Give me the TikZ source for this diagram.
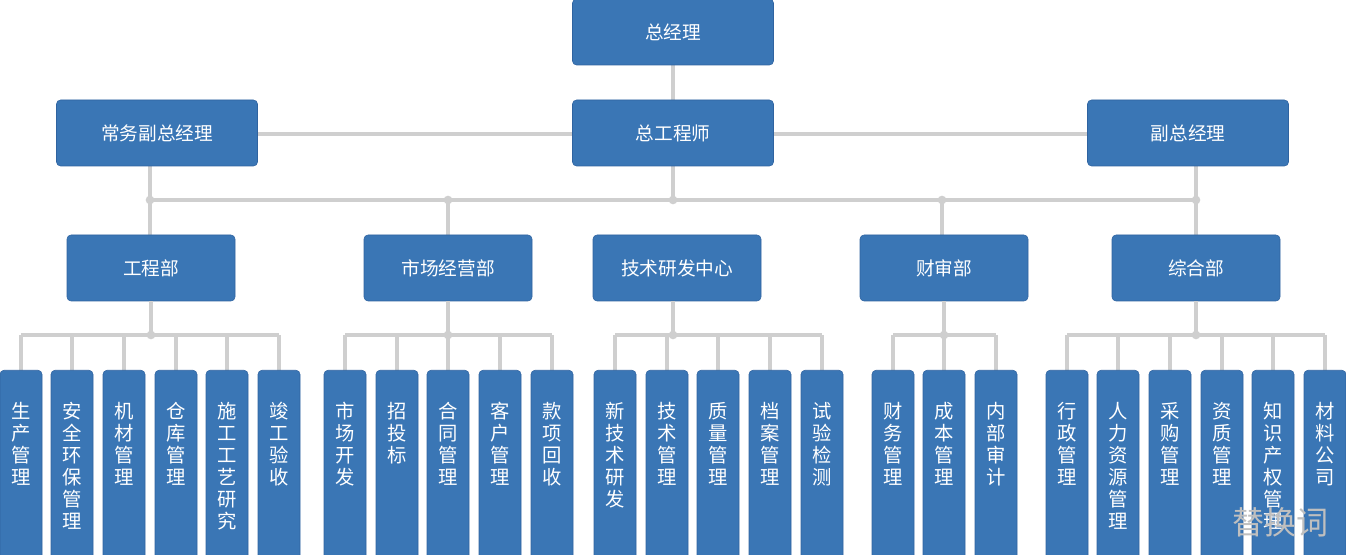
\documentclass[tikz,border=0pt]{standalone}
\usepackage{fontspec}
\setmainfont{Noto Sans CJK SC}
\definecolor{boxblue}{HTML}{3A76B5}
\definecolor{boxedge}{HTML}{2F63A0}
\definecolor{wire}{HTML}{CFCFCF}
\begin{document}
\begin{tikzpicture}[
    x=0.75pt,y=-0.75pt,
    box/.style={
      fill=boxblue,draw=boxedge,rounded corners=3pt,text=white,inner sep=0pt,
      font=\fontsize{14}{16}\selectfont
    },
    top/.style={box,minimum width=150.75pt,minimum height=49.5pt},
    dept/.style={box,minimum width=126pt,minimum height=49.5pt},
    leaf/.style={box,minimum width=31.5pt,minimum height=142pt,anchor=north},
    leaftext/.style={
      anchor=north,align=center,text=white,inner sep=0pt,
      font=\fontsize{14.5}{16.5}\selectfont
    },
    wire/.style={draw=wire,line width=2.4pt},
    dot/.style={circle,fill=wire,inner sep=0pt,minimum size=6.5pt}
  ]
    \useasboundingbox (0,0) rectangle (1346,555);

    % wires of the top levels
    \coordinate (bus0) at (150,200);
    \coordinate (bus1) at (1196,200);
    \draw[wire] (257,134) -- (1088,134);
    \draw[wire] (673,60) -- (673,200);
    \draw[wire] (150,160) -- (bus0) -- (bus1) -- (1196,160);
    \foreach \x in {448,942} { \draw[wire] (\x,200) -- (\x,240); }
    \draw[wire] (150,200) -- (150,240);
    \draw[wire] (1196,200) -- (1196,240);

    % top
    \node[top] (gm)   at (673,32)  {总经理};
    \node[top] (cge)  at (673,133) {总工程师};
    \node[top] (vgm1) at (157,133) {常务副总经理};
    \node[top] (vgm2) at (1188,133) {副总经理};
    \foreach \x in {150,448,673,942,1196} { \node[dot] at (\x,200) {}; }

    % departments
    \node[dept] (eng) at (151,268)  {工程部};
    \node[dept] (mkt) at (448,268)  {市场经营部};
    \node[dept] (rnd) at (677,268)  {技术研发中心};
    \node[dept] (fin) at (944,268)  {财审部};
    \node[dept] (adm) at (1196,268) {综合部};

    % leaves
    \foreach \x/\t [count=\i] in {21/{生\\产\\管\\理},72/{安\\全\\环\\保\\管\\理},124/{机\\材\\管\\理},
        176/{仓\\库\\管\\理},227/{施\\工\\工\\艺\\研\\究},279/{竣\\工\\验\\收}} {
      \draw[wire] (\x,375) -- (\x,335);
      \node[leaf] (eng\i) at (\x,370) {};
      \node[leaftext] (eng\i t) at (\x,402) {\t};
    }
    \draw[wire] (eng1.north |- 0,335) -- (eng6.north |- 0,335);
    \draw[wire] (eng) -- (151,335);
    \node[dot] at (151,335) {};

    \foreach \x/\t [count=\i] in {345/{市\\场\\开\\发},397/{招\\投\\标},448/{合\\同\\管\\理},
        500/{客\\户\\管\\理},552/{款\\项\\回\\收}} {
      \draw[wire] (\x,375) -- (\x,335);
      \node[leaf] (mkt\i) at (\x,370) {};
      \node[leaftext] (mkt\i t) at (\x,402) {\t};
    }
    \draw[wire] (mkt1.north |- 0,335) -- (mkt5.north |- 0,335);
    \draw[wire] (mkt) -- (448,335);
    \node[dot] at (448,335) {};

    \foreach \x/\t [count=\i] in {615/{新\\技\\术\\研\\发},667/{技\\术\\管\\理},718/{质\\量\\管\\理},
        770/{档\\案\\管\\理},822/{试\\验\\检\\测}} {
      \draw[wire] (\x,375) -- (\x,335);
      \node[leaf] (rnd\i) at (\x,370) {};
      \node[leaftext] (rnd\i t) at (\x,402) {\t};
    }
    \draw[wire] (rnd1.north |- 0,335) -- (rnd5.north |- 0,335);
    \draw[wire] (673,301) -- (673,335);
    \node[dot] at (673,335) {};

    \foreach \x/\t [count=\i] in {893/{财\\务\\管\\理},944/{成\\本\\管\\理},996/{内\\部\\审\\计}} {
      \draw[wire] (\x,375) -- (\x,335);
      \node[leaf] (fin\i) at (\x,370) {};
      \node[leaftext] (fin\i t) at (\x,402) {\t};
    }
    \draw[wire] (fin1.north |- 0,335) -- (fin3.north |- 0,335);
    \draw[wire] (fin) -- (944,335);
    \node[dot] at (944,335) {};

    \foreach \x/\t [count=\i] in {1067/{行\\政\\管\\理},1118/{人\\力\\资\\源\\管\\理},1170/{采\\购\\管\\理},
        1222/{资\\质\\管\\理},1273/{知\\识\\产\\权\\管\\理},1325/{材\\料\\公\\司}} {
      \draw[wire] (\x,375) -- (\x,335);
      \node[leaf] (adm\i) at (\x,370) {};
      \node[leaftext] (adm\i t) at (\x,402) {\t};
    }
    \draw[wire] (adm1.north |- 0,335) -- (adm6.north |- 0,335);
    \draw[wire] (adm) -- (1196,335);
    \node[dot] at (1196,335) {};

    % watermark
    \node[text=gray!50,font=\fontsize{24}{26}\selectfont] (mark) at (1280,522) {替换词};
  \end{tikzpicture}
\end{document}
